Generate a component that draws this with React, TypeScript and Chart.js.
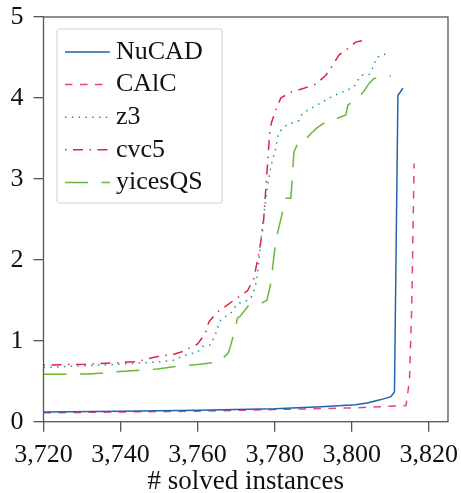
import React, { useEffect, useRef } from 'react';
import { Chart, registerables } from 'chart.js';

Chart.register(...registerables);

// ---- Data ----
const X_TICKS = [3720, 3740, 3760, 3780, 3800, 3820];
const Y_TICKS = [0, 1, 2, 3, 4, 5];
const X_MIN = 3720;
const X_MAX = 3825;
const Y_MIN = 0;
const Y_MAX = 5;
const X_TITLE = '# solved instances';

const NUCAD_X = [3720, 3740, 3760, 3780, 3792, 3801, 3804, 3807.4, 3810.2, 3811.1, 3812.0, 3813.3];
const NUCAD_Y = [0.12, 0.13, 0.14, 0.16, 0.185, 0.21, 0.23, 0.27, 0.31, 0.37, 4.03, 4.12];

const CALC_X = [3720, 3740, 3760, 3780, 3790, 3800, 3814.1, 3815.0, 3815.6, 3816.2];
const CALC_Y = [0.11, 0.12, 0.13, 0.15, 0.16, 0.17, 0.2, 0.51, 1.45, 3.19];

const Z3_X = [3720, 3730, 3740, 3750, 3753.7, 3756.6, 3760, 3761.2, 3763.4, 3764.7, 3766, 3768.6, 3770.3, 3772, 3773.8, 3775, 3775.5, 3776.8, 3778.1, 3779, 3780.3, 3781, 3782, 3783.3, 3786.3, 3787.2, 3789.8, 3792.4, 3795.4, 3799, 3800.6, 3802.4, 3804.5, 3805.8, 3806.3, 3807.6, 3809];
const Z3_Y = [0.67, 0.69, 0.71, 0.74, 0.76, 0.82, 0.86, 0.93, 0.95, 1.09, 1.26, 1.34, 1.46, 1.48, 1.52, 1.67, 1.81, 2.41, 2.90, 3.15, 3.38, 3.56, 3.62, 3.67, 3.72, 3.81, 3.88, 3.95, 4.03, 4.10, 4.14, 4.28, 4.29, 4.40, 4.49, 4.53, 4.54];

const CVC5_X = [3720, 3730.8, 3744, 3750, 3753.7, 3756.3, 3760, 3762, 3762.9, 3765, 3770.6, 3773, 3774.6, 3775.9, 3777, 3777.5, 3778.1, 3778.7, 3779.2, 3780.3, 3781.6, 3784.2, 3787.6, 3790.7, 3793.3, 3795, 3796.7, 3799, 3801, 3802.9];
const CVC5_Y = [0.70, 0.71, 0.74, 0.81, 0.83, 0.87, 0.96, 1.09, 1.23, 1.35, 1.54, 1.62, 1.77, 2.08, 2.40, 2.74, 3.15, 3.56, 3.70, 3.85, 4.0, 4.07, 4.12, 4.17, 4.28, 4.40, 4.53, 4.61, 4.69, 4.71];

const YICES_X = [3720, 3732, 3740, 3749.5, 3755.5, 3760.7, 3765.4, 3766.7, 3768, 3769.9, 3770.3, 3771, 3773.3, 3774.2, 3776.8, 3778, 3779, 3779.4, 3780.3, 3782, 3782.9, 3784.2, 3784.6, 3785, 3786, 3787.2, 3789.4, 3791, 3793.7, 3796.3, 3798.5, 3799, 3801.6, 3803, 3804.5, 3805.8, 3810.2];
const YICES_Y = [0.585, 0.59, 0.62, 0.65, 0.69, 0.71, 0.74, 0.79, 0.85, 1.16, 1.28, 1.30, 1.44, 1.45, 1.47, 1.50, 1.71, 1.87, 2.24, 2.58, 2.76, 2.76, 3.02, 3.33, 3.44, 3.44, 3.56, 3.63, 3.72, 3.75, 3.79, 3.91, 4.01, 4.07, 4.18, 4.24, 4.27];

const SERIES_LABELS = ['NuCAD', 'CAlC', 'z3', 'cvc5', 'yicesQS'];

// ---- Styles ----
const FONT_FAMILY = '"Liberation Serif", "DejaVu Serif", serif';
const AXIS_COLOR = '#555555';
const TEXT_COLOR = '#111111';

const toPoints = (xs: number[], ys: number[]) => xs.map((x, i) => ({ x, y: ys[i] }));

const STYLES = [
  { color: '#1f63ad', dash: [] as number[] },
  { color: '#ea3e8a', dash: [7.5, 7.5] },
  { color: '#2b8f94', dash: [1.5, 5.3] },
  { color: '#e0233f', dash: [1.5, 6.5, 10, 6.5] },
  { color: '#67b936', dash: [23, 13.5] },
];

const frameAndLegend = {
  id: 'frameAndLegend',
  afterDraw(chart: any) {
    const { ctx, chartArea } = chart;
    ctx.save();
    // frame
    ctx.setLineDash([]);
    ctx.strokeStyle = AXIS_COLOR;
    ctx.lineWidth = 1.3;
    ctx.strokeRect(chartArea.left, chartArea.top, chartArea.right - chartArea.left, chartArea.bottom - chartArea.top);

    // legend box
    const x0 = chartArea.left + 13.5;
    const y0 = chartArea.top + 12;
    const w = 165;
    const h = 174;
    ctx.beginPath();
    if (ctx.roundRect) ctx.roundRect(x0, y0, w, h, 2);
    else ctx.rect(x0, y0, w, h);
    ctx.fillStyle = 'rgba(255,255,255,0.85)';
    ctx.fill();
    ctx.strokeStyle = '#d0d0d0';
    ctx.lineWidth = 1;
    ctx.stroke();

    chart.data.datasets.forEach((ds: any, i: number) => {
      const y = y0 + 23 + i * 32.6;
      ctx.beginPath();
      ctx.setLineDash(ds.borderDash || []);
      ctx.lineDashOffset = 0;
      ctx.strokeStyle = ds.borderColor;
      ctx.lineWidth = ds.borderWidth;
      ctx.moveTo(x0 + 8, y);
      ctx.lineTo(x0 + 53, y);
      ctx.stroke();
      ctx.setLineDash([]);
      ctx.fillStyle = TEXT_COLOR;
      ctx.font = `26px ${FONT_FAMILY}`;
      ctx.textAlign = 'left';
      ctx.textBaseline = 'middle';
      ctx.fillText(ds.label, x0 + 59, y);
    });
    ctx.restore();
  },
};

export default function App() {
  const canvasRef = useRef<HTMLCanvasElement | null>(null);

  useEffect(() => {
    const canvas = canvasRef.current;
    if (!canvas) return;
    const seriesX = [NUCAD_X, CALC_X, Z3_X, CVC5_X, YICES_X];
    const seriesY = [NUCAD_Y, CALC_Y, Z3_Y, CVC5_Y, YICES_Y];
    const chart = new Chart(canvas, {
      type: 'line',
      data: {
        datasets: SERIES_LABELS.map((label, i) => ({
          label,
          data: toPoints(seriesX[i], seriesY[i]),
          borderColor: STYLES[i].color,
          backgroundColor: STYLES[i].color,
          borderDash: STYLES[i].dash,
          borderWidth: 1.5,
          pointRadius: 0,
          tension: 0,
          fill: false,
        })),
      },
      options: {
        responsive: false,
        animation: false,
        layout: { padding: { top: 17, right: 13, left: 0, bottom: 0 } },
        plugins: {
          legend: { display: false },
          tooltip: { enabled: false },
        },
        scales: {
          x: {
            type: 'linear',
            min: X_MIN,
            max: X_MAX,
            afterBuildTicks: (scale: any) => {
              scale.ticks = X_TICKS.map((v) => ({ value: v }));
            },
            afterFit: (scale: any) => {
              scale.height = 71.3;
              scale.paddingLeft = 0;
              scale.paddingRight = 0;
            },
            border: { display: false },
            grid: {
              drawOnChartArea: false,
              drawTicks: true,
              tickLength: 10,
              tickColor: AXIS_COLOR,
              lineWidth: 1.3,
            },
            ticks: {
              padding: 8,
              color: TEXT_COLOR,
              font: { family: FONT_FAMILY, size: 26 },
              maxRotation: 0,
              autoSkip: false,
              callback: (v: any) => Number(v).toLocaleString('en-US'),
            },
            title: {
              display: true,
              text: X_TITLE,
              color: TEXT_COLOR,
              font: { family: FONT_FAMILY, size: 27, lineHeight: 1 },
              padding: { top: 0, bottom: -2 },
            },
          },
          y: {
            type: 'linear',
            min: Y_MIN,
            max: Y_MAX,
            afterBuildTicks: (scale: any) => {
              scale.ticks = Y_TICKS.map((v) => ({ value: v }));
            },
            afterFit: (scale: any) => {
              scale.width = 43.5;
              scale.paddingTop = 0;
              scale.paddingBottom = 0;
            },
            border: { display: false },
            grid: {
              drawOnChartArea: false,
              drawTicks: true,
              tickLength: 10,
              tickColor: AXIS_COLOR,
              lineWidth: 1.3,
            },
            ticks: {
              padding: 10,
              color: TEXT_COLOR,
              font: { family: FONT_FAMILY, size: 26 },
              autoSkip: false,
              callback: (v: any) => String(v),
            },
          },
        },
      },
      plugins: [frameAndLegend],
    } as any);
    return () => chart.destroy();
  }, []);

  return (
    <div style={{ position: 'fixed', left: 0, top: 0, width: 461, height: 493, background: '#fff' }}>
      <canvas ref={canvasRef} width={461} height={493} style={{ display: 'block', width: 461, height: 493 }} />
    </div>
  );
}
